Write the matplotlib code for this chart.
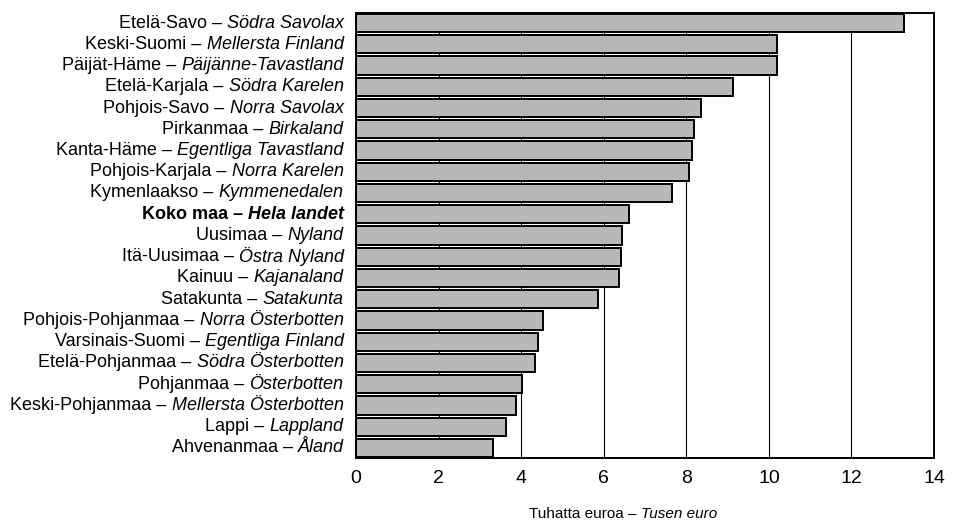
"""
plot.py
Horizontal bar chart by region, Finnish / Swedish labels.
"""

import matplotlib
matplotlib.use("Agg")
import matplotlib.pyplot as plt

# regions, top to bottom
regions_fi = [
    "Etelä-Savo", "Keski-Suomi", "Päijät-Häme", "Etelä-Karjala", "Pohjois-Savo",
    "Pirkanmaa", "Kanta-Häme", "Pohjois-Karjala", "Kymenlaakso", "Koko maa",
    "Uusimaa", "Itä-Uusimaa", "Kainuu", "Satakunta", "Pohjois-Pohjanmaa",
    "Varsinais-Suomi", "Etelä-Pohjanmaa", "Pohjanmaa", "Keski-Pohjanmaa",
    "Lappi", "Ahvenanmaa",
]
regions_sv = [
    "Södra Savolax", "Mellersta Finland", "Päijänne-Tavastland", "Södra Karelen",
    "Norra Savolax", "Birkaland", "Egentliga Tavastland", "Norra Karelen",
    "Kymmenedalen", "Hela landet", "Nyland", "Östra Nyland", "Kajanaland",
    "Satakunta", "Norra Österbotten", "Egentliga Finland", "Södra Österbotten",
    "Österbotten", "Mellersta Österbotten", "Lappland", "Åland",
]
values = [
    13.27, 10.20, 10.20, 9.14, 8.36, 8.19, 8.13, 8.07, 7.65, 6.62,
    6.45, 6.41, 6.37, 5.87, 4.53, 4.40, 4.33, 4.01, 3.87, 3.63, 3.33,
]
highlight = "Koko maa"
xticks = [0, 2, 4, 6, 8, 10, 12, 14]

plt.rcParams["font.family"] = ["Liberation Sans", "DejaVu Sans"]

fig = plt.figure(figsize=(9.57, 5.21), dpi=100)
ax = fig.add_axes([0.372, 0.121, 0.604, 0.854])

n = len(values)
ypos = list(range(n))[::-1]

for x in xticks[1:-1]:
    ax.axvline(x, color="black", lw=0.8, zorder=1)

ax.barh(ypos, values, height=0.86, color="#b8b8b8", edgecolor="black",
        linewidth=1.4, zorder=2)

ax.set_xlim(0, 14)
ax.set_ylim(-0.47, n - 0.53)
ax.set_xticks(xticks)
ax.set_xticklabels([str(t) for t in xticks], fontsize=14)
ax.tick_params(axis="x", length=0, pad=9)
ax.set_yticks([])
for s in ax.spines.values():
    s.set_linewidth(1.4)

ytrans = ax.get_yaxis_transform()
for y, fi, sv in zip(ypos, regions_fi, regions_sv):
    weight = "bold" if fi == highlight else "normal"
    t_sv = ax.annotate(sv, xy=(0, y), xycoords=ytrans, xytext=(-9, 0),
                       textcoords="offset points", ha="right", va="center",
                       fontsize=13, style="italic", weight=weight)
    ax.annotate(fi + " –", xy=(0, 0.5), xycoords=t_sv, xytext=(-3.5, 0),
                textcoords="offset points", ha="right", va="center",
                fontsize=13, weight=weight)

# x label, mixed styles
t_lab = ax.annotate("Tusen euro", xy=(0.5, 0), xycoords="axes fraction",
                    xytext=(-3, -40), textcoords="offset points",
                    ha="left", va="center", fontsize=11, style="italic")
ax.annotate("Tuhatta euroa –", xy=(0, 0.5), xycoords=t_lab, xytext=(-3, 0),
            textcoords="offset points", ha="right", va="center", fontsize=11)

fig.savefig("out.png", dpi=100)
